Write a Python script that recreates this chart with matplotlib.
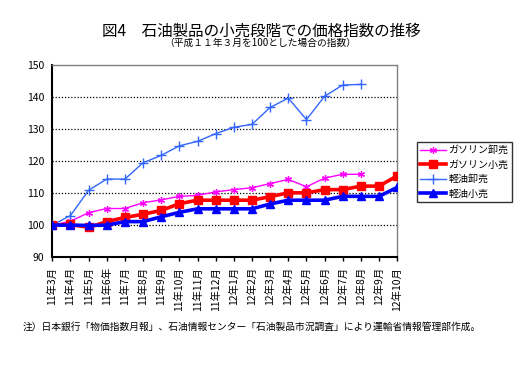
import matplotlib
matplotlib.use("Agg")
import matplotlib.pyplot as plt

plt.rcParams['font.family'] = ['Noto Sans CJK JP', 'DejaVu Sans']

# category labels (the original chart really says 11年6年)
months = ["11年3月", "11年4月", "11年5月", "11年6年", "11年7月", "11年8月",
          "11年9月", "11年10月", "11年11月", "11年12月", "12年1月", "12年2月",
          "12年3月", "12年4月", "12年5月", "12年6月", "12年7月", "12年8月",
          "12年9月", "12年10月"]

# values
gas_wholesale = [100.0, 101.2, 103.9, 105.2, 105.2, 107.0, 107.9, 109.0, 109.3,
                 110.4, 111.1, 111.7, 113.0, 114.3, 112.0, 114.7, 115.9, 115.9]
gas_retail = [100.0, 100.2, 99.3, 101.1, 102.4, 103.4, 104.6, 106.7, 107.8,
              107.8, 107.8, 107.8, 108.9, 110.1, 110.1, 111.1, 111.1, 112.2,
              112.2, 115.4]
diesel_wholesale = [100.0, 103.0, 110.9, 114.4, 114.4, 119.5, 121.8, 124.8, 126.2,
                    128.6, 130.6, 131.5, 136.8, 139.7, 133.0, 140.3, 143.8, 144.0]
diesel_retail = [100.0, 100.0, 99.9, 100.0, 101.1, 101.1, 102.6, 104.0, 105.1,
                 105.1, 105.1, 105.1, 106.6, 107.8, 107.8, 107.8, 109.0, 109.0,
                 109.0, 111.8]

fig = plt.figure(figsize=(5.31, 3.77), dpi=100)
ax = fig.add_axes([0.0985, 0.318, 0.6495, 0.509])

x = list(range(len(months)))

ax.plot(x[:len(gas_wholesale)], gas_wholesale, color='#FF00FF', lw=1.0,
        marker=(6, 2, 0), ms=5, mew=0.9, label='ガソリン卸売', zorder=3)
ax.plot(x, gas_retail, color='#FF0000', lw=2.6, marker='s', ms=5.2,
        label='ガソリン小売', zorder=4)
ax.plot(x[:len(diesel_wholesale)], diesel_wholesale, color='#3366FF', lw=1.0,
        marker='+', ms=6.5, mew=1.0, label='軽油卸売', zorder=3)
ax.plot(x, diesel_retail, color='#0000FF', lw=2.6, marker='^', ms=6,
        label='軽油小売', zorder=5)

ax.set_xlim(0, len(months) - 1)
ax.set_ylim(90, 150)
ax.set_yticks(range(90, 151, 10))
ax.set_yticklabels([str(v) for v in range(90, 151, 10)], fontsize=7.5)
ax.set_xticks(x)
ax.set_xticklabels(months, rotation=90, fontsize=7.5, va='top')
ax.tick_params(axis='y', length=0, pad=6)
ax.tick_params(axis='x', length=3, width=1, direction='out', pad=4)

for v in range(100, 150, 10):
    ax.axhline(v, color='black', lw=0.9, ls=(0, (1, 1.5)), zorder=1)

for side in ['left', 'bottom']:
    ax.spines[side].set_color('black')
    ax.spines[side].set_linewidth(1.5)
for side in ['top', 'right']:
    ax.spines[side].set_color('#808080')
    ax.spines[side].set_linewidth(1.0)
    ax.spines[side].set_linestyle((0, (1, 1)))

leg = fig.legend(loc='upper left', bbox_to_anchor=(0.785, 0.624), fontsize=7.2,
                 frameon=True, fancybox=False, edgecolor='black',
                 borderpad=0.35, labelspacing=0.45, handlelength=2.6,
                 handletextpad=0.2, borderaxespad=0)
leg.get_frame().set_linewidth(1.0)

fig.text(0.492, 0.918, '図4　石油製品の小売段階での価格指数の推移',
         ha='center', va='center', fontsize=11.2)
fig.text(0.49, 0.885, '（平成１１年３月を100とした場合の指数）',
         ha='center', va='center', fontsize=7)
fig.text(0.042, 0.133, '注）日本銀行「物価指数月報」、石油情報センター「石油製品市況調査」により運輸省情報管理部作成。',
         ha='left', va='center', fontsize=7)

fig.savefig('out.png', dpi=100)
